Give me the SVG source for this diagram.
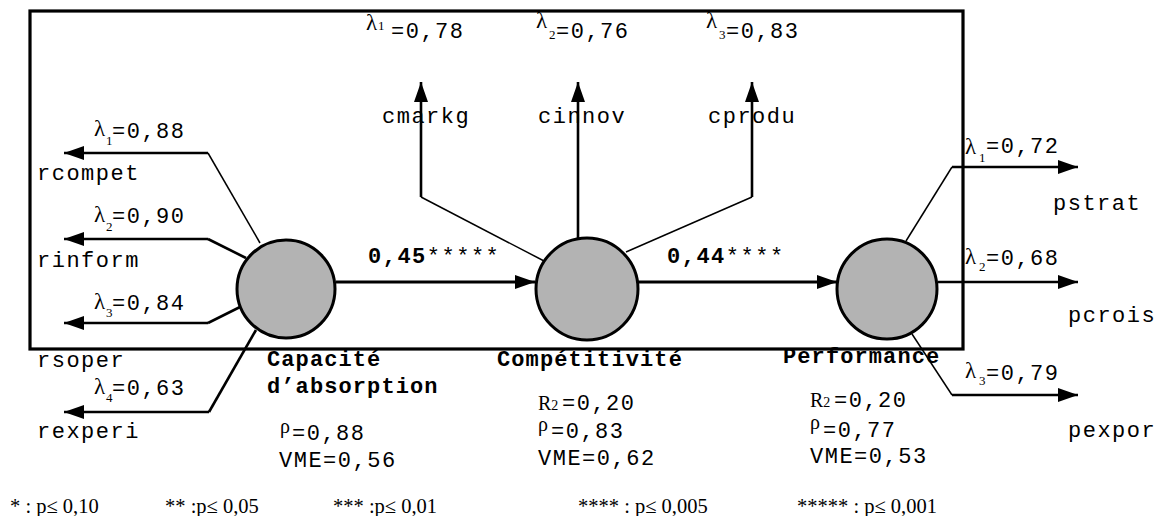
<svg xmlns="http://www.w3.org/2000/svg" width="1156" height="516" viewBox="0 0 1156 516">
<style>
.m{font-family:"Liberation Mono","Courier New",monospace;font-size:22px;letter-spacing:1.5px;fill:#000}
.mb{font-family:"Liberation Mono","Courier New",monospace;font-size:22px;letter-spacing:1.1px;font-weight:bold;fill:#000}
.s{font-family:"Liberation Serif","Times New Roman",serif;fill:#000}
.lam{font-size:23px}
.sub{font-size:13px}
.fn{font-family:"Liberation Serif","Times New Roman",serif;font-size:20.5px;fill:#000}
.thin{stroke:#000;stroke-width:1.5;fill:none}
.thick{stroke:#000;stroke-width:2.6;fill:none}
.arr{stroke:#000;stroke-width:2.6;fill:none;marker-end:url(#ah)}
.main{stroke:#000;stroke-width:3.2;fill:none;marker-end:url(#ah)}
.lv{fill:#b3b3b3;stroke:#000;stroke-width:3}
</style>
<defs>
<marker id="ah" markerUnits="userSpaceOnUse" markerWidth="20" markerHeight="14" refX="20" refY="7" orient="auto">
<path d="M0,0 L20,7 L0,14 z" fill="#000"/>
</marker>
</defs>
<rect id="frame" x="30" y="11" width="933" height="338" fill="none" stroke="#000" stroke-width="3.2"/>
<g id="connectors">
<path class="thin" d="M260,243 L208,153"/>
<path class="arr" d="M208,153 L64,153"/>
<path class="thick" d="M246,258 L208,239"/>
<path class="arr" d="M208,239 L64,239"/>
<path class="thick" d="M240,307 L208,323"/>
<path class="arr" d="M208,323 L64,323"/>
<path class="thick" d="M256,330 L209,412"/>
<path class="arr" d="M209,412 L64,412"/>
<path class="thin" d="M546,262 L421,197"/>
<path class="arr" d="M421,197 L421,82"/>
<path class="arr" d="M578,240 L578,82"/>
<path class="thin" d="M626,252 L752,197"/>
<path class="arr" d="M752,197 L752,82"/>
<path class="thin" d="M906,241 L952,167"/>
<path class="arr" d="M952,167 L1078,167"/>
<path class="arr" d="M938,282 L1078,282"/>
<path class="thin" d="M912,334 L952,395"/>
<path class="arr" d="M952,395 L1078,395"/>
<path class="main" d="M336,282 L535,282"/>
<path class="main" d="M638,282 L837,282"/>
</g>
<g id="node-capacite">
<circle class="lv" cx="286" cy="289" r="49"/>
<text class="mb" x="267" y="366">Capacité</text>
<text class="mb" x="267" y="393">d’absorption</text>
<text x="280" y="433" class="s" font-size="20">ρ</text>
<text class="m" x="292" y="440">=0,88</text>
<text class="m" x="279" y="467">VME=0,56</text>
</g>
<g id="node-competitivite">
<circle class="lv" cx="587" cy="289" r="51"/>
<text class="mb" x="497" y="366">Compétitivité</text>
<text class="s" x="538" y="410" font-size="20">R<tspan font-size="14">2</tspan></text>
<text class="m" x="562" y="410">=0,20</text>
<text x="538" y="431" class="s" font-size="20">ρ</text>
<text class="m" x="551" y="438">=0,83</text>
<text class="m" x="538" y="465">VME=0,62</text>
</g>
<g id="node-performance">
<circle class="lv" cx="887" cy="289" r="50"/>
<text class="mb" x="783" y="363">Performance</text>
<text class="s" x="810" y="407" font-size="20">R<tspan font-size="14">2</tspan></text>
<text class="m" x="834" y="407">=0,20</text>
<text x="810" y="429" class="s" font-size="20">ρ</text>
<text class="m" x="823" y="437">=0,77</text>
<text class="m" x="810" y="463">VME=0,53</text>
</g>
<g id="ind-rcompet">
<text class="s lam" x="94" y="136">λ</text><text class="s sub" x="106" y="145">1</text><text class="m" x="112" y="138">=0,88</text>
<text class="m" x="37" y="180">rcompet</text>
</g>
<g id="ind-rinform">
<text class="s lam" x="94" y="222">λ</text><text class="s sub" x="106" y="231">2</text><text class="m" x="112" y="223">=0,90</text>
<text class="m" x="37" y="267">rinform</text>
</g>
<g id="ind-rsoper">
<text class="s lam" x="94" y="309">λ</text><text class="s sub" x="106" y="317">3</text><text class="m" x="112" y="310">=0,84</text>
<text class="m" x="37" y="367">rsoper</text>
</g>
<g id="ind-rexperi">
<text class="s lam" x="94" y="394">λ</text><text class="s sub" x="106" y="402">4</text><text class="m" x="112" y="395">=0,63</text>
<text class="m" x="37" y="438">rexperi</text>
</g>
<g id="ind-cmarkg">
<text class="s lam" x="366" y="30">λ</text><text class="s sub" x="378" y="30">1</text><text class="m" x="391" y="38">=0,78</text>
<text class="m" x="382" y="123">cmarkg</text>
</g>
<g id="ind-cinnov">
<text class="s lam" x="536" y="28">λ</text><text class="s sub" x="549" y="39">2</text><text class="m" x="556" y="38">=0,76</text>
<text class="m" x="538" y="123">cinnov</text>
</g>
<g id="ind-cprodu">
<text class="s lam" x="706" y="28">λ</text><text class="s sub" x="719" y="39">3</text><text class="m" x="726" y="38">=0,83</text>
<text class="m" x="708" y="123">cprodu</text>
</g>
<g id="ind-pstrat">
<text class="s lam" x="965" y="154">λ</text><text class="s sub" x="979" y="162">1</text><text class="m" x="986" y="153">=0,72</text>
<text class="m" x="1053" y="210">pstrat</text>
</g>
<g id="ind-pcrois">
<text class="s lam" x="965" y="264">λ</text><text class="s sub" x="979" y="271">2</text><text class="m" x="986" y="265">=0,68</text>
<text class="m" x="1068" y="322">pcrois</text>
</g>
<g id="ind-pexpor">
<text class="s lam" x="965" y="378">λ</text><text class="s sub" x="979" y="385">3</text><text class="m" x="986" y="380">=0,79</text>
<text class="m" x="1068" y="437">pexpor</text>
</g>
<g id="path-labels">
<text class="m" x="368" y="263"><tspan font-weight="bold">0,45</tspan>*****</text>
<text class="m" x="667" y="263"><tspan font-weight="bold">0,44</tspan>****</text>
</g>
<g id="footnote">
<text class="fn" x="10" y="513">* : p≤ 0,10</text>
<text class="fn" x="165" y="513">** :p≤ 0,05</text>
<text class="fn" x="333" y="513">*** :p≤ 0,01</text>
<text class="fn" x="578" y="513">**** : p≤ 0,005</text>
<text class="fn" x="797" y="513">***** : p≤ 0,001</text>
</g>
</svg>
